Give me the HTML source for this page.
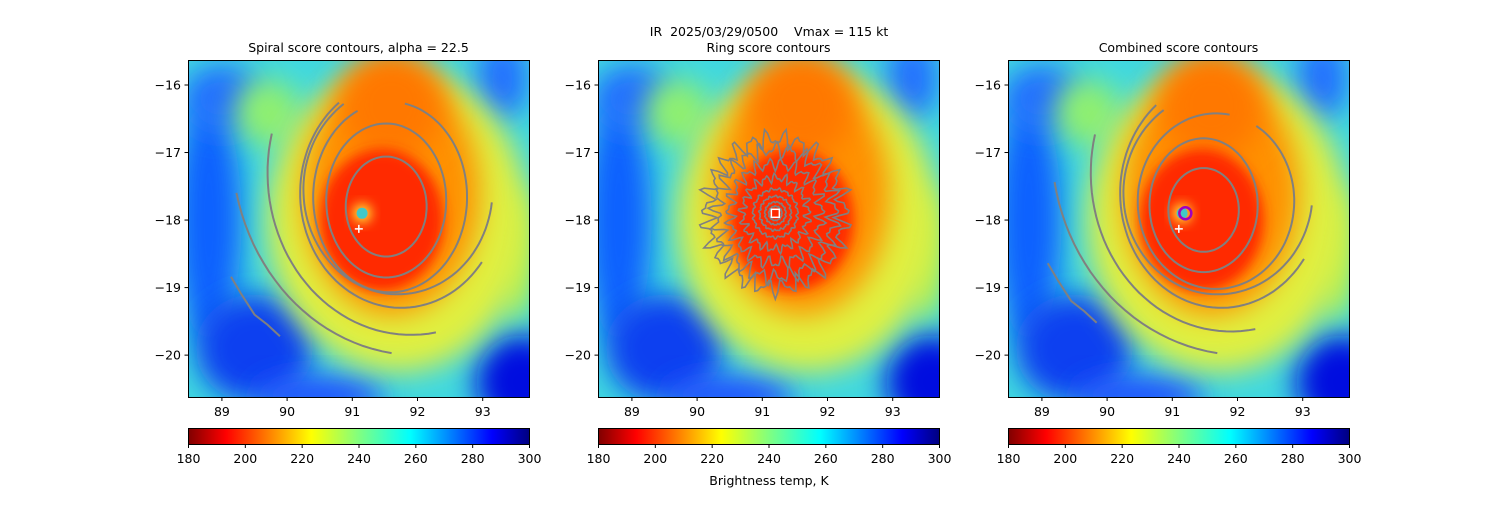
<!DOCTYPE html>
<html><head><meta charset="utf-8">
<style>
body{margin:0;background:#fff;}
svg text{font-family:"DejaVu Sans","Liberation Sans",sans-serif;fill:#000;white-space:pre;}
</style></head>
<body>
<svg id="fig" width="1500" height="500" xmlns="http://www.w3.org/2000/svg">
<defs>
<filter id="bl" x="-50%" y="-50%" width="200%" height="200%"><feGaussianBlur stdDeviation="14"/></filter>
<filter id="bs" x="-50%" y="-50%" width="200%" height="200%"><feGaussianBlur stdDeviation="6"/></filter>
<linearGradient id="jetr" x1="0" x2="1" y1="0" y2="0">
<stop offset="0" stop-color="#800000"/><stop offset="0.11" stop-color="#ff0000"/>
<stop offset="0.36" stop-color="#ffff00"/><stop offset="0.5" stop-color="#80ff80"/>
<stop offset="0.65" stop-color="#00ffff"/><stop offset="0.89" stop-color="#0000ff"/>
<stop offset="1" stop-color="#000080"/></linearGradient>
</defs>
<text x="769" y="36" text-anchor="middle" font-size="12.5" xml:space="preserve">IR  2025/03/29/0500    Vmax = 115 kt</text>
<text x="769" y="485" text-anchor="middle" font-size="12.5">Brightness temp, K</text>
</svg>
<script>
const xTicks=[89,90,91,92,93];
const yTicks=[-16,-17,-18,-19,-20];
const cbTicks=[180,200,220,240,260,280,300];
const titles=["Spiral score contours, alpha = 22.5","Ring score contours","Combined score contours"];
const panelLeft=[188,598,1008];
// contour arcs: [cx, cy, rx, ry, startDeg, endDeg]
const spiralArcs=[[91.52,-17.80,0.62,0.74,0,360],[91.52,-17.71,0.92,1.14,0,360],[91.58,-17.66,1.18,1.41,115,440],
 [91.7,-17.55,1.45,1.55,125,355],[91.75,-17.6,1.55,1.7,128,325],[91.9,-17.3,2.2,2.4,166,280],[92.0,-16.9,2.85,3.1,193,262]];
const spiralLine=[[89.14,-18.84],[89.3,-19.1],[89.5,-19.4],[89.7,-19.55],[89.89,-19.72]];
const combinedArcs=[[91.48,-17.85,0.54,0.62,0,360],[91.48,-17.78,0.83,0.99,0,360],[91.67,-17.72,1.2,1.3,80,420],
 [91.7,-17.6,1.45,1.5,125,355],[91.75,-17.6,1.55,1.7,130,325],[91.9,-17.3,2.15,2.35,166,280],[92.1,-16.9,2.95,3.1,190,262]];
const ringRadii=[0.1,0.16,0.24,0.34,0.5,0.7,0.9,1.05];
const ringCenter=[91.2,-17.9];
const eyeCenter=[91.15,-17.9];
const plusPos=[91.1,-18.13];

const NS="http://www.w3.org/2000/svg";
const fig=document.getElementById('fig');
const X0=88.48,X1=93.71,Y0=-15.63,Y1=-20.62,PW=341,PT=60,PH=337;
function mk(tag,attrs,parent){const e=document.createElementNS(NS,tag);for(const k in attrs)e.setAttribute(k,attrs[k]);(parent||fig).appendChild(e);return e;}

panelLeft.forEach((L,pi)=>{
  const sx=v=>L+(v-X0)/(X1-X0)*PW, sy=v=>PT+(v-Y0)/(Y1-Y0)*PH;
  const sc=d=>d/(X1-X0)*PW, scy=d=>d/(Y0-Y1)*PH;
  const cp=mk('clipPath',{id:'cp'+pi});mk('rect',{x:L,y:PT,width:PW,height:PH},cp);
  const g=mk('g',{'clip-path':'url(#cp'+pi+')'});
  
  
  mk('rect',{x:L,y:PT,width:PW,height:PH,fill:'#40d8e0'},g);
  const blobs=[[88.8,-18.0,0.5,1.8,'#1060ff'],[89.0,-16.2,0.6,0.5,'#2070ff'],[89.5,-19.9,0.9,0.8,'#1040f0'],[93.6,-20.4,0.7,0.7,'#0010e0'],[93.3,-15.9,0.4,0.6,'#2070ff'],[90.5,-20.6,1.0,0.3,'#2050ff'],[93.5,-18.5,0.3,1.0,'#b0f050'],[89.7,-16.4,0.5,0.5,'#90f070']];
  blobs.forEach(b=>mk('ellipse',{cx:sx(b[0]),cy:sy(b[1]),rx:sc(b[2]),ry:scy(b[3]),fill:b[4],filter:'url(#bl)'},g));
  mk('ellipse',{cx:sx(91.7),cy:sy(-18.0),rx:sc(2.0),ry:scy(2.25),fill:'#e0f040',filter:'url(#bl)'},g);
  mk('ellipse',{cx:sx(91.6),cy:sy(-17.6),rx:sc(1.35),ry:scy(1.8),fill:'#ff9000',filter:'url(#bl)'},g);
  mk('ellipse',{cx:sx(91.6),cy:sy(-16.3),rx:sc(0.8),ry:scy(0.8),fill:'#ff7800',filter:'url(#bl)'},g);
  mk('ellipse',{cx:sx(91.45),cy:sy(-18.0),rx:sc(0.95),ry:scy(1.05),fill:'#ff2c00',filter:'url(#bs)'},g);
  if(pi!==1){mk('circle',{cx:sx(eyeCenter[0]),cy:sy(eyeCenter[1]),r:9,fill:'#ffff40',filter:'url(#bs)'},g);
    mk('circle',{cx:sx(eyeCenter[0]),cy:sy(eyeCenter[1]),r:5.5,fill:'#40c8c8'},g);}
  const drawArcs=(arcs,name)=>arcs.forEach((a,i)=>{let d='';for(let t=a[4];t<=a[5]+0.01;t+=3){const r=t*Math.PI/180;const px=sx(a[0]+a[2]*Math.cos(r)),py=sy(a[1]+a[3]*Math.sin(r));d+=(d?'L':'M')+px.toFixed(1)+','+py.toFixed(1);}
    const p=mk('path',{d:d,fill:'none',stroke:'#808080','stroke-width':2},g);
    
    });
  if(pi===0||pi===2){drawArcs(pi===0?spiralArcs:combinedArcs,'score-contour');
    const d=spiralLine.map((p,i)=>(i?'L':'M')+sx(p[0]-(pi===2?0.05:0))+','+sy(p[1]-(pi===2?-0.2:0))).join('');
    mk('path',{d:d,fill:'none',stroke:'#808080','stroke-width':2},g);}
  if(pi===1){ringRadii.forEach((r,i)=>{let d='';const amp=i>3?0.09:0.04;for(let t=0;t<=360;t+=2){const rr=t*Math.PI/180;const w=1+amp*Math.sin(rr*(13+2*i))+amp*0.7*Math.cos(rr*(23+3*i));
      const px=sx(ringCenter[0]+r*w*Math.cos(rr)),py=sy(ringCenter[1]+r*1.05*w*Math.sin(rr));d+=(d?'L':'M')+px.toFixed(1)+','+py.toFixed(1);}
      const p=mk('path',{d:d,fill:'none',stroke:'#808080','stroke-width':1.6},g);
      
      });
    const s=mk('rect',{x:sx(ringCenter[0])-4,y:sy(ringCenter[1])-4,width:8,height:8,fill:'none',stroke:'#fff','stroke-width':1.5},g);
    
    }
  if(pi===2){const c=mk('circle',{cx:sx(eyeCenter[0]+0.05),cy:sy(eyeCenter[1]),r:6,fill:'none',stroke:'#a000c0','stroke-width':2.5},g);
    
    }
  if(pi!==1){const px=sx(plusPos[0]),py=sy(plusPos[1]);
    const pl=mk('path',{d:`M${px-4},${py}H${px+4}M${px},${py-4}V${py+4}`,stroke:'#fff','stroke-width':1.5},g);
    
    }
  const fr=mk('rect',{x:L+0.5,y:PT+0.5,width:PW,height:PH,fill:'none',stroke:'#000','stroke-width':1});
  
  
  const t=mk('text',{x:L+PW/2,y:52,'text-anchor':'middle','font-size':12.5});t.textContent=titles[pi];
  
  
  xTicks.forEach(v=>{const x=sx(v);mk('line',{x1:x,x2:x,y1:PT+PH+0.5,y2:PT+PH+4,stroke:'#000'});
    const tx=mk('text',{x:x,y:PT+PH+19,'text-anchor':'middle','font-size':12.5});tx.textContent=v;
    
    });
  yTicks.forEach(v=>{const y=sy(v);mk('line',{x1:L-3.5,x2:L+0.5,y1:y,y2:y,stroke:'#000'});
    const tx=mk('text',{x:L-7,y:y+4.5,'text-anchor':'end','font-size':12.5});tx.textContent='\u2212'+Math.abs(v);
    
    });
  const cb=mk('rect',{x:L+0.5,y:428.5,width:PW,height:16,fill:'url(#jetr)',stroke:'#000','stroke-width':1});
  
  
  cbTicks.forEach(v=>{const x=L+0.5+(v-180)/120*PW;mk('line',{x1:x,x2:x,y1:444.5,y2:448,stroke:'#000'});
    const tx=mk('text',{x:x,y:463,'text-anchor':'middle','font-size':12.5});tx.textContent=v;
    
    });
});
</script>
</body></html>
